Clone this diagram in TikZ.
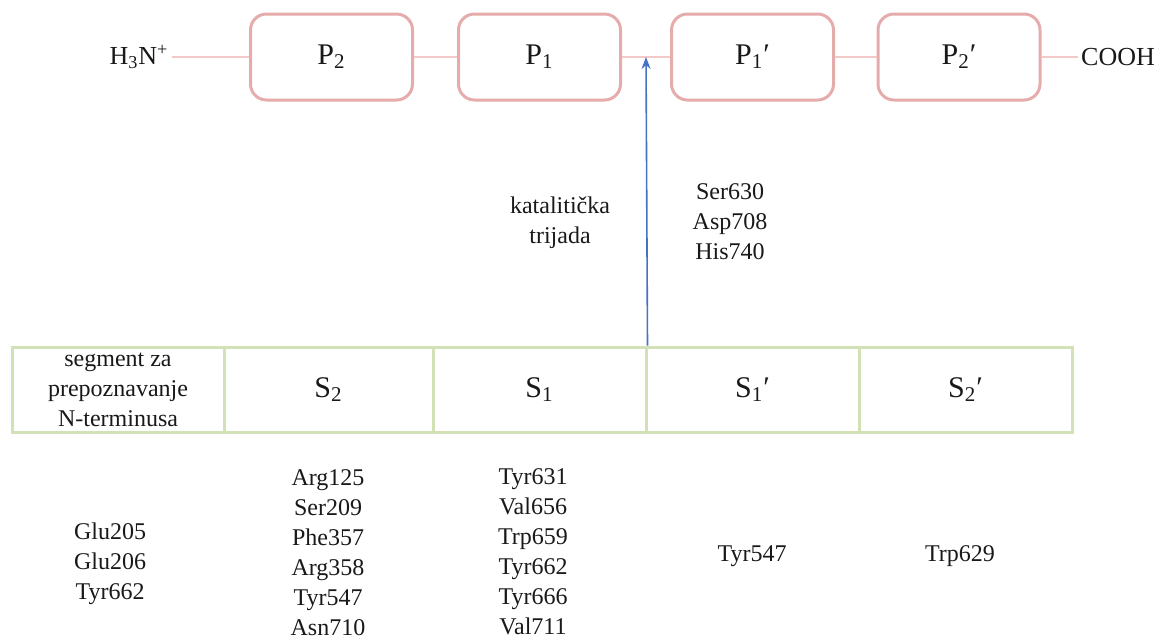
\documentclass[tikz,border=0pt]{standalone}
\usepackage{fontspec}
\setmainfont{Liberation Serif}
\usepackage{xcolor}
\usetikzlibrary{positioning, arrows.meta}

\definecolor{boxpink}{RGB}{230,172,172}
\definecolor{linepink}{RGB}{242,200,200}
\definecolor{cellgreen}{RGB}{210,226,182}
\definecolor{arrowblue}{RGB}{68,114,196}
\definecolor{ink}{RGB}{25,25,25}

\begin{document}
\begin{tikzpicture}[x=0.5pt, y=-0.5pt,
    pbox/.style={draw=boxpink, line width=1.5pt, rounded corners=8pt,
        minimum width=81pt, minimum height=43pt, text=ink,
        font=\fontsize{15}{17}\selectfont},
    scell/.style={draw=cellgreen, line width=1.5pt, minimum height=42.5pt,
        inner sep=1pt, text=ink, align=center},
    reslist/.style={align=center, text=ink, font=\fontsize{12}{15}\selectfont},
    term/.style={inner sep=1.5pt, text=ink, font=\fontsize{13}{15}\selectfont},
    chain/.style={linepink, line width=1pt}]

    \useasboundingbox (0,0) rectangle (1161,639);

    %% Peptide
    \foreach \x/\name/\lbl in {331.5/p2/P\textsubscript{2}, 539.5/p1/P\textsubscript{1},
            752.5/p1p/P\textsubscript{1}′, 959/p2p/P\textsubscript{2}′}
    \node[pbox] (\name) at (\x,57) {\lbl};
    \node[term] (nterm) at (139,57) {H\textsubscript{3}N\textsuperscript{+}};
    \node[term] (cterm) at (1118,57) {COOH};
    \coordinate (cut) at (646,57);
    \draw[chain] (nterm) -- (p2) -- (p1) -- (p1p) -- (p2p) -- (cterm);

    %% Subsites
    \node[scell, minimum width=106pt, font=\fontsize{12}{15}\selectfont] (s0) at (118,389.5)
        {segment za\\prepoznavanje\\N-terminusa};
    \foreach \x/\w/\name/\lbl in {328.5/104.5/s2/S\textsubscript{2}, 539.5/106.5/s1/S\textsubscript{1},
            752.5/106.5/s1p/S\textsubscript{1}′, 965.5/106.5/s2p/S\textsubscript{2}′}
    \node[scell, minimum width=\w pt, font=\fontsize{15}{17}\selectfont] (\name) at (\x,389.5) {\lbl};

    % Catalytic triad
    \draw[arrowblue, line width=0.8pt, -{Stealth[length=6pt, width=4.5pt]}] (s1.north east) -- (cut);
    \node[reslist] (kat) at (560,223) {katalitička\\trijada};
    \node[reslist] (triad) at (730,222) {Ser630\\Asp708\\His740};

    % Residues
    \node[reslist] (r0) at (110,563.5) {Glu205\\Glu206\\Tyr662};
    \node[reslist] (r2) at (328,553) {Arg125\\Ser209\\Phe357\\Arg358\\Tyr547\\Asn710};
    \node[reslist] (r1) at (533,552) {Tyr631\\Val656\\Trp659\\Tyr662\\Tyr666\\Val711};
    \node[reslist] (r1p) at (752,556) {Tyr547};
    \node[reslist] (r2p) at (960,556) {Trp629};

\end{tikzpicture}
\end{document}
